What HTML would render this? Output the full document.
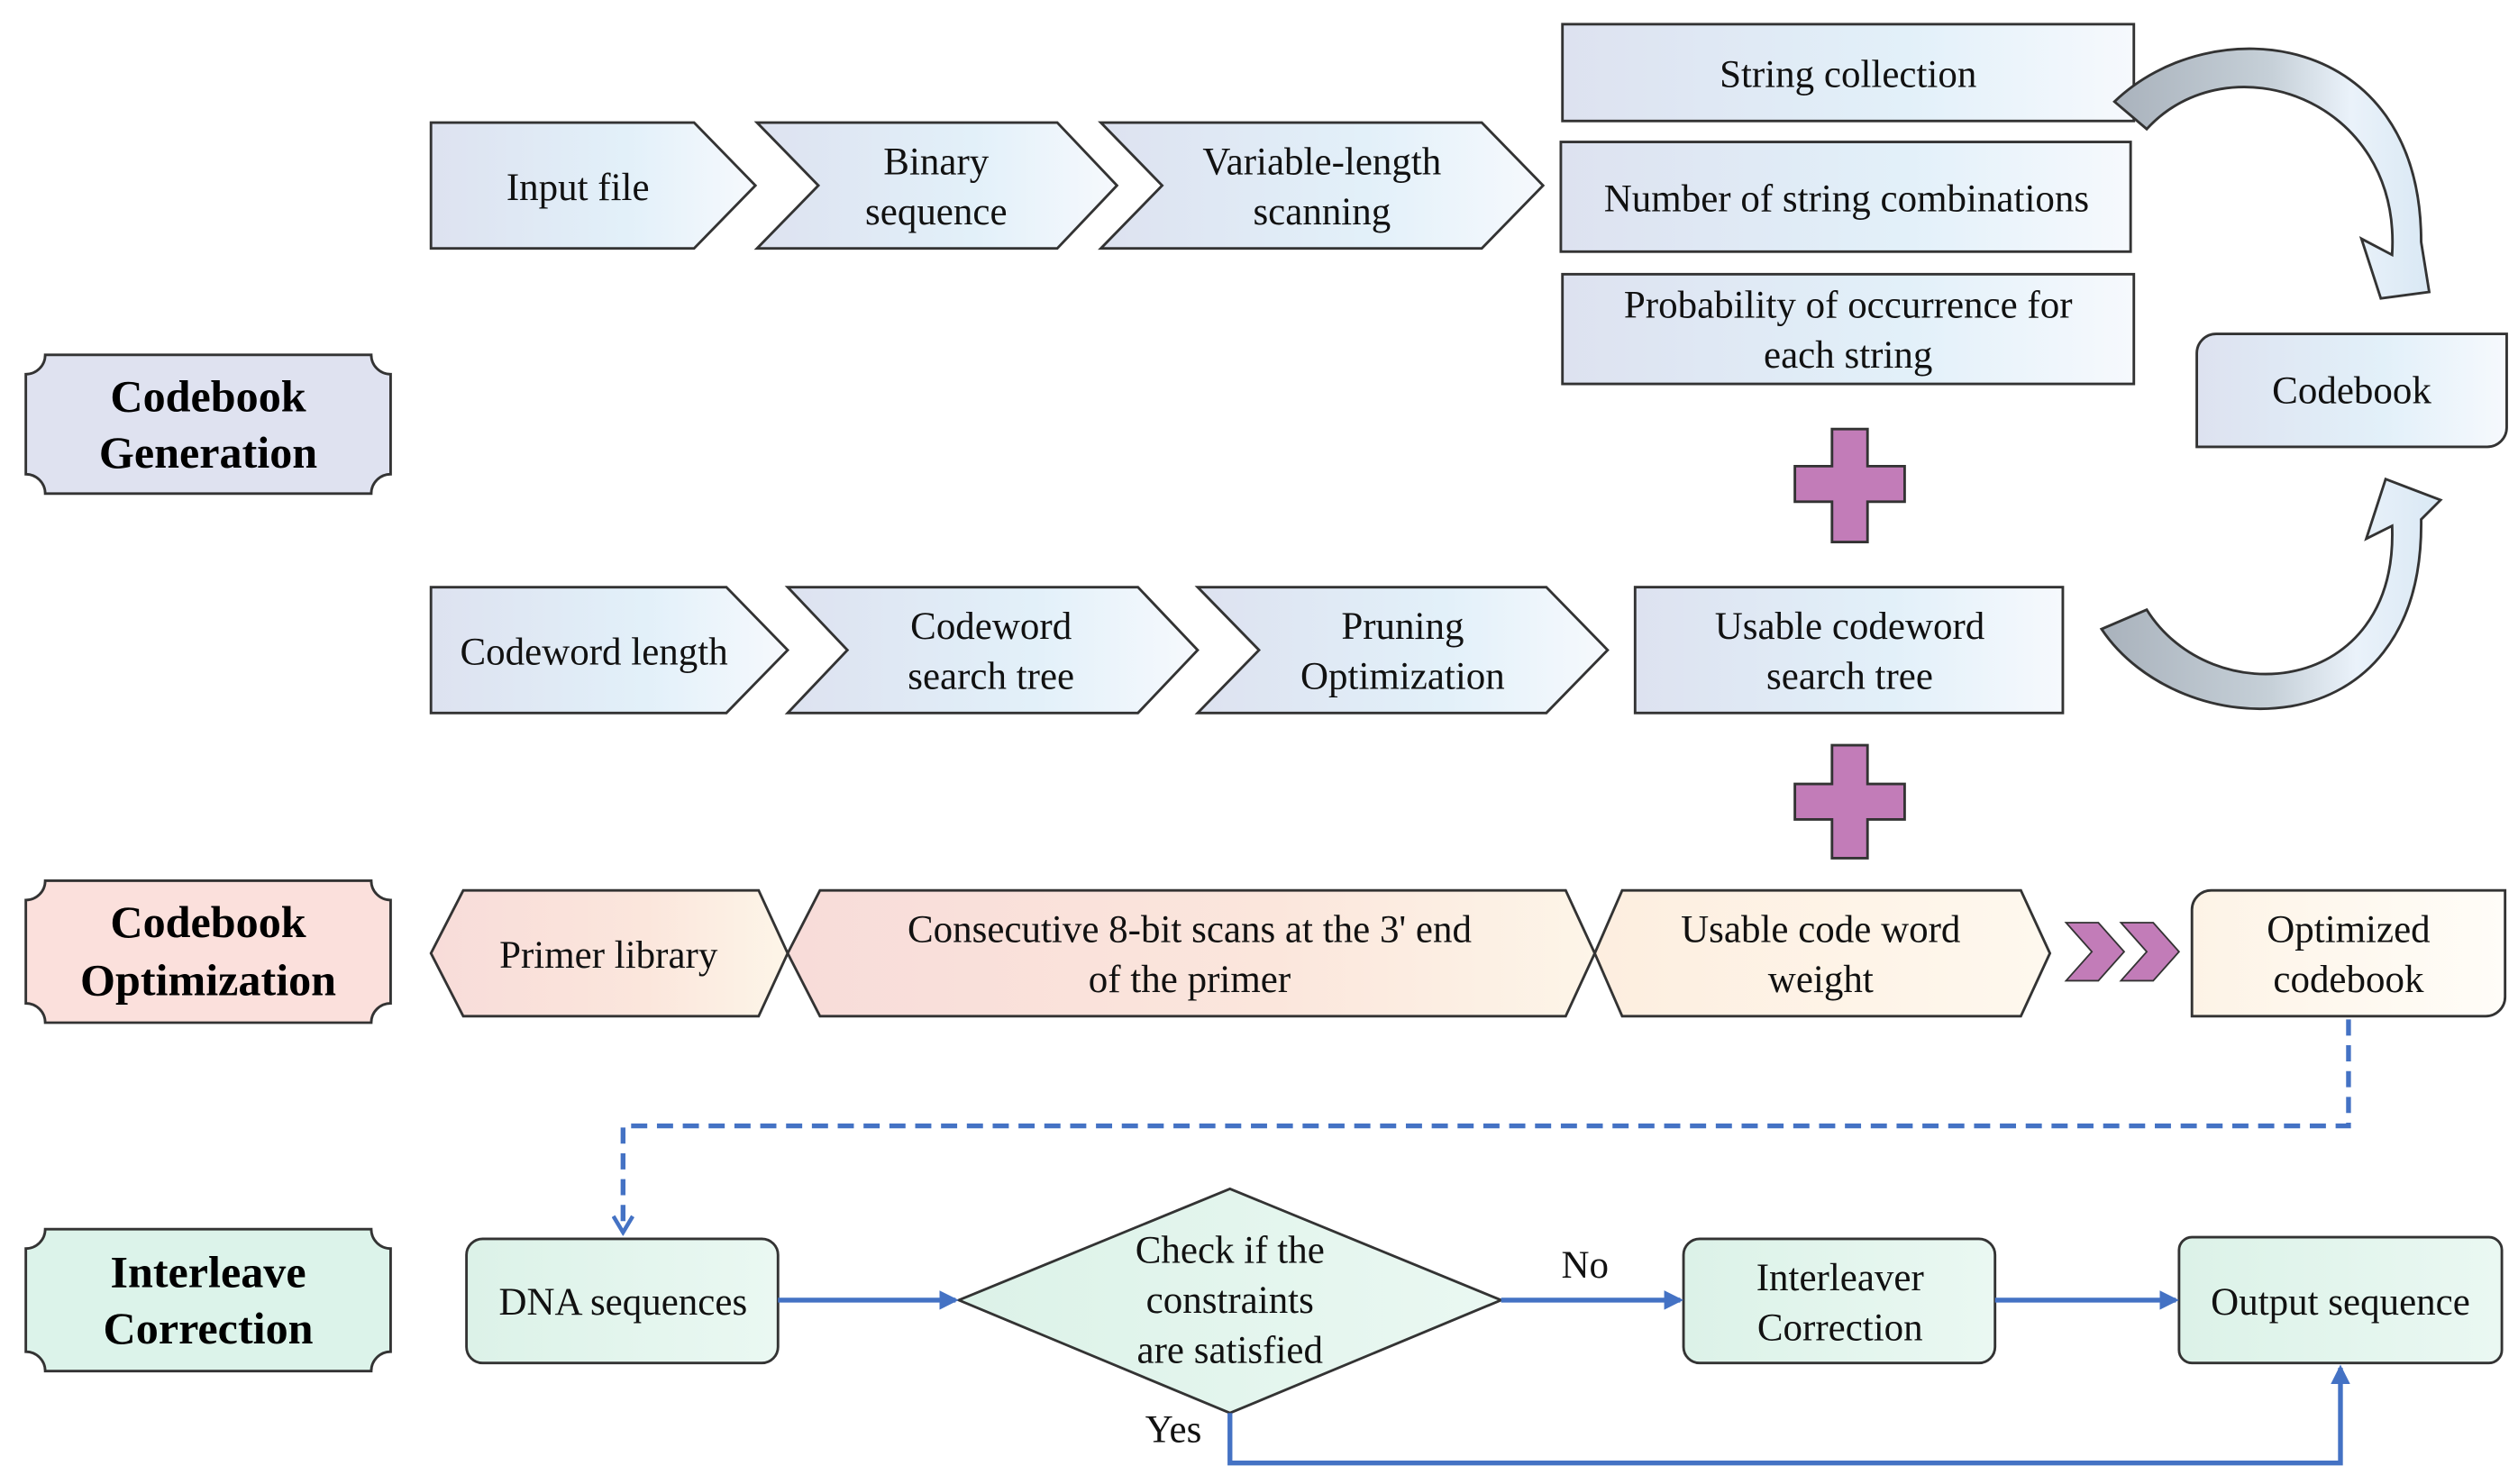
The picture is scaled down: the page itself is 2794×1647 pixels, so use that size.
<!DOCTYPE html>
<html><head><meta charset="utf-8"><style>html,body{margin:0;padding:0;background:#fff}svg{display:block}</style></head>
<body>
<svg width="2794" height="1647" viewBox="0 0 1560 920" preserveAspectRatio="none" xmlns="http://www.w3.org/2000/svg" font-family="'Liberation Serif',serif">
<defs>
<linearGradient id="bl" x1="0" x2="1" y1="0" y2="0"><stop offset="0" stop-color="#dde2f0"/><stop offset="0.6" stop-color="#e2f0f9"/><stop offset="1" stop-color="#f6f9fd"/></linearGradient>
<linearGradient id="pk" x1="0" x2="1"><stop offset="0" stop-color="#f8dcd9"/><stop offset="0.6" stop-color="#fbe6dc"/><stop offset="1" stop-color="#fdf5e8"/></linearGradient>
<linearGradient id="pk2" x1="0" x2="1"><stop offset="0" stop-color="#fdeedf"/><stop offset="1" stop-color="#fef8ee"/></linearGradient>
<linearGradient id="ob" x1="0" x2="1"><stop offset="0" stop-color="#fdf3e6"/><stop offset="1" stop-color="#fffdf8"/></linearGradient>
<linearGradient id="ar" x1="0" x2="1"><stop offset="0" stop-color="#a9b2bc"/><stop offset="0.5" stop-color="#c6d0d8"/><stop offset="0.75" stop-color="#eaf2fa"/><stop offset="1" stop-color="#d9e8f4"/></linearGradient>
<linearGradient id="gr" x1="0" x2="1"><stop offset="0" stop-color="#dcf2e8"/><stop offset="1" stop-color="#eaf8f2"/></linearGradient>
<marker id="ah" markerWidth="12" markerHeight="12" refX="10" refY="6" orient="auto" markerUnits="userSpaceOnUse"><path d="M0,0 L12,6 L0,12 Z" fill="#4472c4"/></marker>
<marker id="ahd" markerWidth="14" markerHeight="14" refX="7" refY="12" orient="0" markerUnits="userSpaceOnUse"><path d="M1,2 L7,12 L13,2" fill="none" stroke="#4472c4" stroke-width="2.5"/></marker>
</defs>
<g stroke="#333" stroke-width="1.6">
<path d="M28,220 H230 A12,12 0 0 0 242,232 V294 A12,12 0 0 0 230,306 H28 A12,12 0 0 0 16,294 V232 A12,12 0 0 0 28,220 Z" fill="#dfe2f0"/>
<path d="M28,546 H230 A12,12 0 0 0 242,558 V622 A12,12 0 0 0 230,634 H28 A12,12 0 0 0 16,622 V558 A12,12 0 0 0 28,546 Z" fill="#fbe0dc"/>
<path d="M28,762 H230 A12,12 0 0 0 242,774 V838 A12,12 0 0 0 230,850 H28 A12,12 0 0 0 16,838 V774 A12,12 0 0 0 28,762 Z" fill="#dcf3ea"/>
<path d="M267,76 H430 L468,115 L430,154 H267 Z" fill="url(#bl)"/>
<path d="M469,76 H655 L692,115 L655,154 H469 L507,115 Z" fill="url(#bl)"/>
<path d="M682,76 H918 L956,115 L918,154 H682 L720,115 Z" fill="url(#bl)"/>
<rect x="968" y="15" width="354" height="60" fill="url(#bl)"/>
<rect x="967" y="88" width="353" height="68" fill="url(#bl)"/>
<rect x="968" y="170" width="354" height="68" fill="url(#bl)"/>
<path d="M1375,207 H1553 V265 A12,12 0 0 1 1541,277 H1361 V219 A12,12 0 0 1 1373,207 Z" fill="url(#bl)"/>
<path d="M1310,63 C1370,5 1500,18 1500,150 L1505,181 L1475,185 L1463,148 L1482,158 C1488,60 1380,25 1330,80 Z" fill="url(#ar)"/>
<path d="M1302,390 C1350,462 1502,468 1500,322 L1512,310 L1478,297 L1466,334 L1482,326 C1486,432 1370,442 1330,378 Z" fill="url(#ar)"/>
<path d="M1135,266 H1157 V289 H1180 V311 H1157 V336 H1135 V311 H1112 V289 H1135 Z" fill="#c27cb8"/>
<path d="M1135,462 H1157 V486 H1180 V508 H1157 V532 H1135 V508 H1112 V486 H1135 Z" fill="#c27cb8"/>
<path d="M267,364 H450 L488,403 L450,442 H267 Z" fill="url(#bl)"/>
<path d="M488,364 H705 L742,403 L705,442 H488 L525,403 Z" fill="url(#bl)"/>
<path d="M742,364 H958 L996,403 L958,442 H742 L780,403 Z" fill="url(#bl)"/>
<rect x="1013" y="364" width="265" height="78" fill="url(#bl)"/>
<path d="M287,552 H470 L488,591 L470,630 H287 L267,591 Z" fill="url(#pk)"/>
<path d="M508,552 H970 L988,591 L970,630 H508 L488,591 Z" fill="url(#pk)"/>
<path d="M1005,552 H1252 L1270,591 L1252,630 H1005 L988,591 Z" fill="url(#pk2)"/>
<path d="M1280,572 H1300 L1316,590 L1300,608 H1280 L1296,590 Z" fill="#c27cb8" stroke-width="1"/>
<path d="M1314,572 H1334 L1350,590 L1334,608 H1314 L1330,590 Z" fill="#c27cb8" stroke-width="1"/>
<path d="M1370,552 H1552 V618 A12,12 0 0 1 1540,630 H1358 V564 A12,12 0 0 1 1370,552 Z" fill="url(#ob)"/>
<rect x="289" y="768" width="193" height="77" rx="10" fill="url(#gr)"/>
<path d="M594,806 L762,737 L930,806 L762,876 Z" fill="url(#gr)"/>
<rect x="1043" y="768" width="193" height="77" rx="10" fill="url(#gr)"/>
<rect x="1350" y="767" width="200" height="78" rx="8" fill="url(#gr)"/>
</g>
<g fill="none" stroke="#4472c4" stroke-width="3">
<path d="M1455,632 V698 H386 V764" stroke-dasharray="10,6" marker-end="url(#ahd)"/>
<path d="M482,806 H592" marker-end="url(#ah)"/>
<path d="M930,806 H1041" marker-end="url(#ah)"/>
<path d="M1236,806 H1348" marker-end="url(#ah)"/>
<path d="M762,876 V907 H1450 V848" marker-end="url(#ah)"/>
</g>
<g font-size="24" fill="#111" text-anchor="middle">
<text x="358" y="124">Input file</text>
<text x="580" y="108">Binary</text><text x="580" y="139">sequence</text>
<text x="819" y="108">Variable-length</text><text x="819" y="139">scanning</text>
<text x="1145" y="54">String collection</text>
<text x="1144" y="131">Number of string combinations</text>
<text x="1145" y="197">Probability of occurrence for</text><text x="1145" y="228">each string</text>
<text x="1457" y="250">Codebook</text>
<text x="368" y="412">Codeword length</text>
<text x="614" y="396">Codeword</text><text x="614" y="427">search tree</text>
<text x="869" y="396">Pruning</text><text x="869" y="427">Optimization</text>
<text x="1146" y="396">Usable codeword</text><text x="1146" y="427">search tree</text>
<text x="377" y="600">Primer library</text>
<text x="737" y="584">Consecutive 8-bit scans at the 3' end</text><text x="737" y="615">of the primer</text>
<text x="1128" y="584">Usable code word</text><text x="1128" y="615">weight</text>
<text x="1455" y="584">Optimized</text><text x="1455" y="615">codebook</text>
<text x="386" y="815">DNA sequences</text>
<text x="762" y="783">Check if the</text><text x="762" y="814">constraints</text><text x="762" y="845">are satisfied</text>
<text x="982" y="792">No</text>
<text x="727" y="894">Yes</text>
<text x="1140" y="800">Interleaver</text><text x="1140" y="831">Correction</text>
<text x="1450" y="815">Output sequence</text>
</g>
<g font-size="28" font-weight="bold" fill="#000" text-anchor="middle">
<text x="129" y="255">Codebook</text><text x="129" y="290">Generation</text>
<text x="129" y="581">Codebook</text><text x="129" y="617">Optimization</text>
<text x="129" y="798">Interleave</text><text x="129" y="833">Correction</text>
</g>
</svg>
</body></html>
